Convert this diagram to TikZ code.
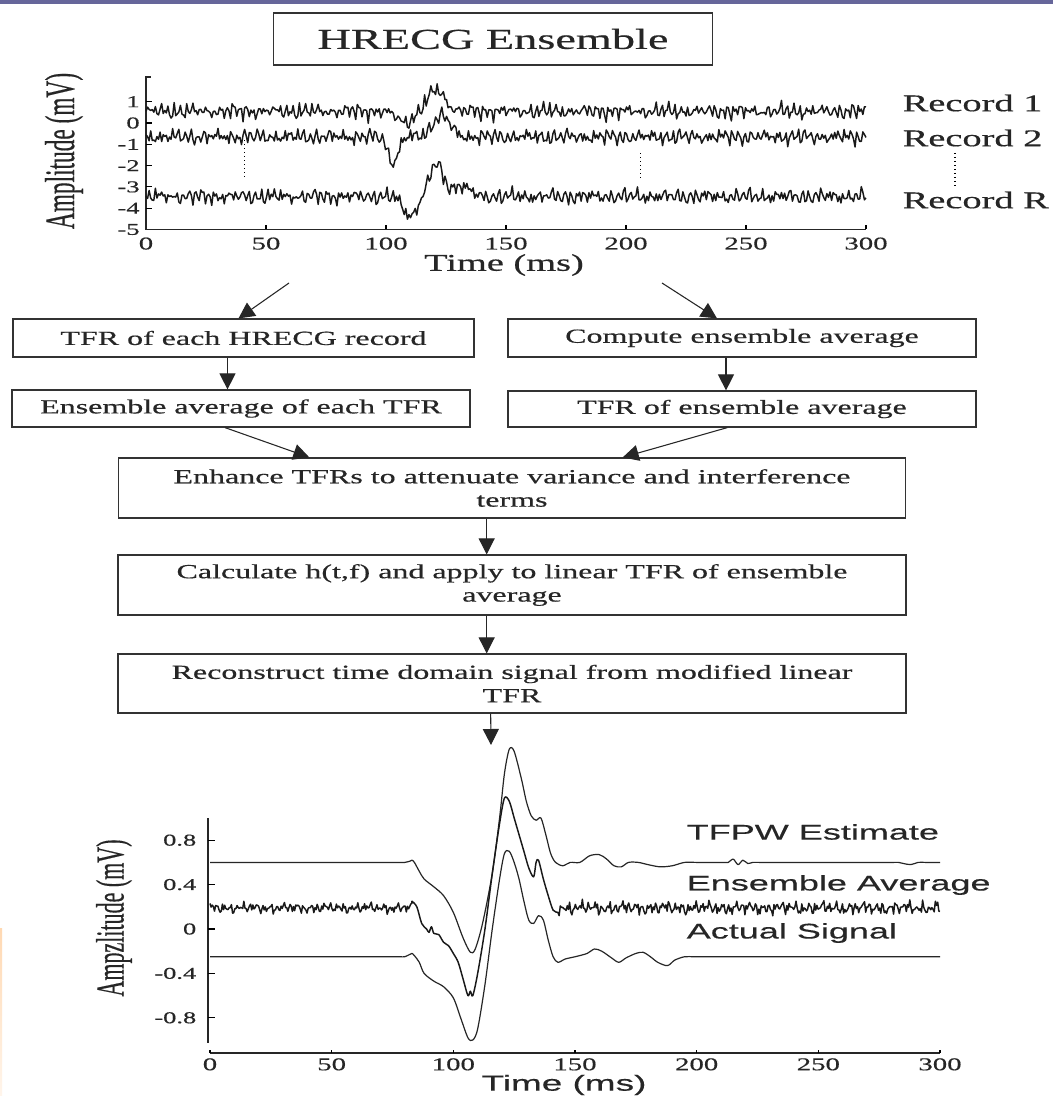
\documentclass[tikz,border=0pt]{standalone}
\usepackage{fontspec}
\setmainfont{Liberation Serif}[FakeStretch=1.6, FakeBold=0.5]
\setsansfont{Liberation Sans}[FakeStretch=1.7, FakeBold=0.4]
\newfontfamily\plainserif{Liberation Serif}[FakeBold=0.5]
\usepackage{graphicx}
\usepackage{xcolor}
\usepackage{tikz}
\usetikzlibrary{arrows.meta,positioning,calc}
\definecolor{barpurple}{HTML}{66669A}

\begin{document}
\begin{tikzpicture}[
  x=0.75pt, y=-0.75pt,
  every node/.style={text=black!85},
  stage/.style={rectangle, draw=black!80, line width=0.9pt, inner sep=0pt,
    align=center, font=\fontsize{15}{17.5}\selectfont},
  arrow/.style={-{Triangle[length=12pt, width=12pt]}, line width=0.8pt,
    draw=black!85},
  trace/.style={line width=0.9pt, draw=black!85, line join=round},
  noisy/.style={line width=1.1pt, draw=black!90, line join=round},
  axis/.style={line width=1.4pt, draw=black!85},
  tick/.style={font=\fontsize{13.5}{15}\selectfont, inner sep=1pt},
  ytick/.style={font=\fontsize{12.4}{14}\selectfont, inner sep=1pt},
  record/.style={anchor=west, font=\fontsize{18}{20}\selectfont},
  legend/.style={anchor=west, font=\sffamily\fontsize{15.9}{18}\selectfont},
  declare function={
    nz(\t,\p)=0.42*sin(360*frac(0.364*\t+\p))+0.3*sin(360*frac(0.786*\t+1.7*\p))
      +0.25*sin(360*frac(1.13*\t+2.3*\p))+0.2*sin(360*frac(0.171*\t+0.4*\p))
      +0.22*sin(360*frac(0.537*\t+3.1*\p))+0.15*sin(360*frac(0.0613*\t+1.3*\p));
    g(\t,\c,\w)=exp(-min(((\t-\c)/\w)^2,20));
  }
]
  \useasboundingbox (0,0) rectangle (1053,1098);
  \fill[white] (0,0) rectangle (1053,1098);
  \fill[barpurple] (0,0) rectangle (1053,4);
  \shade[top color=orange!30, bottom color=orange!8] (0,928) rectangle (2,1095);

  \node[draw=black!80, line width=0.9pt, minimum width=329pt, minimum height=39pt,
    font=\fontsize{21.7}{24}\selectfont] (title) at (493,39) {HRECG Ensemble};

  % recorded ensemble
  \begin{scope}[shift={(146,123)}, x=1.8pt, y=15.975pt]
    \draw[axis] (2,2.15) -- (0,2.15) -- (0,-5) -- (300,-5);
    \foreach \v in {1,0,-1,-2,-3,-4}
      \draw[line width=0.8pt] (0,\v) -- (2.5,\v);
    \foreach \t in {50,100,...,300}
      \draw[line width=0.8pt] (\t,-5) -- (\t,-4.8);
    \foreach \v [count=\k] in {1,0,-1,-2,-3,-4,-5}
      \node[ytick, anchor=east] (ya\k) at (-2,\v) {\v};
    \foreach \t [count=\k] in {0,50,...,300}
      \node[tick, anchor=north] (xa\k) at (\t,-5.3) {\t};
    \draw[noisy] plot[domain=0:300, samples=461]
      (\x,{0.55+0.4*nz(\x,0)-0.5*g(\x,108,5)+1.0*g(\x,121,5)});
    \draw[noisy] plot[domain=0:300, samples=461]
      (\x,{-0.65+0.4*nz(\x,0.37)-1.2*g(\x,103,3)+1.0*g(\x,123,5)});
    \draw[noisy] plot[domain=0:300, samples=461]
      (\x,{-3.45+0.4*nz(\x,0.71)-0.9*g(\x,110,4)+1.5*g(\x,121,4)+0.5*g(\x,131,5)});
    \draw[dotted, line width=1pt] (41,-0.8) -- (41,-2.58);
    \draw[dotted, line width=1pt] (206,-1.41) -- (206,-2.67);
  \end{scope}
  \node[rotate=90] (ampl) at (64,151)
    {\scalebox{1}[1.8]{\plainserif\fontsize{17.5}{20}\selectfont Amplitude (mV)}};
  \node[font=\fontsize{18}{20}\selectfont] (timea) at (504,265) {Time (ms)};
  \node[record] (rec1) at (898,103) {Record 1};
  \node[record] (rec2) at (898,138) {Record 2};
  \node[record] (recR) at (898,200) {Record R};
  \draw[dotted, line width=1pt] (955,153) -- (955,188);

  % processing chain
  \node[stage, minimum width=345.75pt, minimum height=28.5pt] (tfrrec) at (243.5,338)
    {TFR of each HRECG record};
  \node[stage, minimum width=351pt, minimum height=28.5pt] (compavg) at (742,338)
    {Compute ensemble average};
  \node[stage, minimum width=343.5pt, minimum height=27.75pt] (avgtfr) at (241,408.5)
    {Ensemble average of each TFR};
  \node[stage, minimum width=351pt, minimum height=27pt] (tfravg) at (742,409)
    {TFR of ensemble average};
  \node[stage, minimum width=590.25pt, minimum height=45pt] (enhance) at (512,488)
    {Enhance TFRs to attenuate variance and interference\\terms};
  \node[stage, minimum width=591pt, minimum height=45pt] (hfilter) at (512,585)
    {Calculate h(t,f) and apply to linear TFR of ensemble\\average};
  \node[stage, minimum width=591pt, minimum height=44.25pt] (rebuild) at (512,683.5)
    {Reconstruct time domain signal from modified linear\\TFR};

  \coordinate (splitL) at (289,283);
  \coordinate (splitR) at (662,283);
  \coordinate (est) at (491,745);
  \draw[arrow] (splitL) -- ($(tfrrec.north)+(-5,0)$);
  \draw[arrow] (splitR) -- ($(compavg.north)+(-25,0)$);
  \draw[arrow] ([xshift=-12pt]tfrrec.south) -- ([xshift=-12pt]tfrrec.south |- avgtfr.north);
  \draw[arrow] ([xshift=-12pt]compavg.south) -- ([xshift=-12pt]compavg.south |- tfravg.north);
  \draw[arrow] ([xshift=-12pt]avgtfr.south) -- ([xshift=-152pt]enhance.north);
  \draw[arrow] ([xshift=-11pt]tfravg.south) -- ([xshift=83pt]enhance.north);
  \draw[arrow] ([xshift=-19pt]enhance.south) -- ([xshift=-19pt]enhance.south |- hfilter.north);
  \draw[arrow] ([xshift=-19pt]hfilter.south) -- ([xshift=-19pt]hfilter.south |- rebuild.north);
  \draw[arrow] ([xshift=-16pt]rebuild.south) -- (est);

  % estimated waveforms
  \begin{scope}[shift={(210,929)}, x=1.825pt, y=83.25pt]
    \draw[axis] (-1,1.0) -- (-1,-1.03);
    \draw[axis] (0,-1.117) -- (300,-1.117);
    \foreach \v in {0.8,0.4,0,-0.4,-0.8}
      \draw[line width=0.8pt] (-1,\v) -- (2,\v);
    \foreach \t in {0,50,...,300}
      \draw[line width=0.8pt] (\t,-1.117) -- (\t,-1.09);
    \foreach \v [count=\k] in {0.8,0.4,0,-0.4,-0.8}
      \node[ytick, anchor=east] (yb\k) at (-5,\v) {\v};
    \foreach \t [count=\k] in {0,50,...,300}
      \node[tick, anchor=north] (xb\k) at (\t,-1.15) {\t};
    \draw[trace] plot[smooth, tension=0.5] coordinates {
      (0,0.6) (40,0.6) (74,0.6) (78,0.6) (80,0.6) (82,0.61) (83,0.62)
      (84,0.6) (86,0.52) (88,0.45) (92,0.38) (96,0.3)
      (100,0.15) (104,-0.08) (107,-0.21) (109,-0.18) (112,0.05) (116,0.5)
      (119,1.0) (121,1.4) (123,1.62) (125,1.6) (128,1.35) (130,1.15)
      (132,1.02) (134,0.98) (136,1.0) (138,0.85) (140,0.68) (142,0.6)
      (145,0.57) (148,0.6) (152,0.6) (156,0.66) (160,0.67) (163,0.63)
      (166,0.57) (169,0.56) (172,0.6) (176,0.6) (180,0.58) (185,0.56)
      (190,0.57) (195,0.6) (200,0.6) (207,0.6) (211,0.6) (213,0.6)
      (215,0.63) (217,0.58) (219,0.62) (221,0.59) (223,0.6) (226,0.6)
      (232,0.6) (260,0.6) (280,0.6) (283,0.6) (285,0.59) (288,0.58)
      (291,0.6) (294,0.6) (300,0.6)};
    \draw[noisy] plot[domain=0:83, samples=180] (\x,{0.19+0.05*nz(\x,0.2)})
      -- plot[smooth, tension=0.5] coordinates {
      (83,0.25) (85,0.2) (87,0.05) (89,0.0) (90,-0.03) (91,0.02) (92,-0.04)
      (94,-0.05) (96,-0.12) (98,-0.15) (100,-0.22) (102,-0.3) (104,-0.45)
      (106,-0.6) (107,-0.56) (108,-0.6) (110,-0.4) (113,0.0) (116,0.5)
      (119,0.95) (121,1.18) (123,1.15) (125,1.0) (127,0.85) (129,0.7)
      (131,0.55) (133,0.47) (134,0.6) (135,0.62) (137,0.45) (139,0.3)
      (141,0.17) (143,0.15)}
      -- plot[domain=143:300, samples=330] (\x,{0.19+0.065*nz(\x,0.6)});
    \draw[trace] plot[smooth, tension=0.5] coordinates {
      (0,-0.25) (40,-0.25) (74,-0.25) (78,-0.25) (80,-0.25) (82,-0.23)
      (83,-0.22) (84,-0.24) (86,-0.3) (88,-0.4) (92,-0.47)
      (96,-0.52) (100,-0.62) (103,-0.8) (106,-0.98) (108,-1.0) (110,-0.9)
      (113,-0.5) (116,0.0) (119,0.45) (121,0.68) (123,0.7) (125,0.6)
      (127,0.45) (129,0.25) (131,0.08) (133,0.05) (135,0.12) (137,0.08)
      (139,-0.1) (141,-0.25) (143,-0.3) (146,-0.27) (150,-0.25) (155,-0.22)
      (158,-0.18) (161,-0.2) (165,-0.26) (168,-0.3) (171,-0.26) (175,-0.22)
      (178,-0.21) (181,-0.25) (184,-0.3) (188,-0.33) (191,-0.28) (195,-0.25)
      (199,-0.25) (205,-0.25) (230,-0.25) (270,-0.25) (300,-0.25)};
  \end{scope}
  \node[rotate=90] (amplz) at (114,918)
    {\scalebox{1}[1.8]{\plainserif\fontsize{16.5}{19}\selectfont Ampzlitude (mV)}};
  \node[font=\sffamily\fontsize{16.3}{18}\selectfont] (timeb) at (564,1085) {Time (ms)};
  \node[legend] (tfpw) at (682,832) {TFPW Estimate};
  \node[legend] (ensavg) at (682,885) {Ensemble Average};
  \node[legend] (actual) at (682,933) {Actual Signal};
\end{tikzpicture}
\end{document}
